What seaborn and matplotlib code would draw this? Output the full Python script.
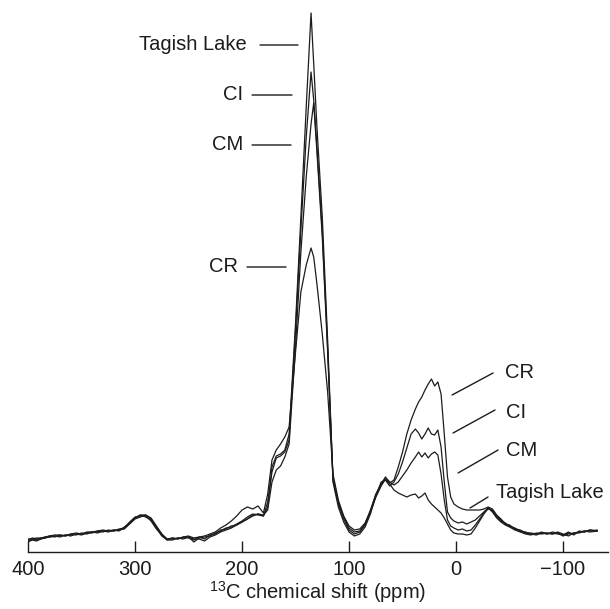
import matplotlib
matplotlib.use("Agg")
import matplotlib.pyplot as plt
import pandas as pd
import seaborn as sns

# 13C chemical shift (ppm), high field on the right
ppm = [400, 396, 392, 388, 384, 380, 375, 370, 365, 360, 355, 350, 345, 340, 335,
       330, 325, 320, 315, 310, 305, 300, 295, 290, 285, 280, 275, 270, 265, 260,
       255, 250, 245, 240, 235, 230, 225, 220, 215, 210, 205, 200, 195, 190, 185, 180,
       176, 172, 168, 164, 160, 156, 150, 145, 140, 135.5, 133, 130, 125, 120, 115,
       110, 105, 100, 95, 90, 85, 80, 75, 70, 66, 62,
       58, 54, 50, 46, 42, 38, 35, 32, 29, 26, 23, 20, 17, 14, 11, 8, 5, 2,
       -2, -6, -10, -14, -18, -22, -26, -30,
       -34, -38, -42, -46, -50, -55, -60, -65, -70, -75, -80, -85, -90, -95,
       -100, -105, -110, -115, -120, -125, -132]

# Signal intensity (arbitrary units) for each meteorite group
tagish_lake = [11, 13, 12, 14, 14, 16, 15, 17, 16, 18, 17, 19, 18, 20, 19,
               21, 20, 22, 21, 25, 29, 34, 37, 35, 32, 24, 16, 12, 14, 13,
               15, 14, 12, 15, 13, 17, 18, 22, 23, 26, 27, 30, 33, 36, 38, 36,
               45, 85, 96, 98, 102, 118, 228, 335, 445, 539, 488, 425, 335, 212, 72,
               48, 33, 22, 18, 20, 27, 40, 55, 67, 73, 68,
               62, 59, 57, 55, 57, 58, 54, 56, 59, 52, 48, 45, 42, 39, 34, 28, 22, 19,
               18, 18, 17, 18, 24, 31, 38, 44,
               41, 35, 31, 28, 26, 23, 21, 19, 18, 18, 19, 18, 19, 18,
               17, 19, 18, 20, 21, 21, 22]

ci = [12, 14, 13, 13, 15, 15, 16, 16, 17, 17, 18, 18, 19, 20, 20,
      21, 21, 21, 23, 24, 30, 35, 36, 36, 31, 23, 17, 13, 13, 14,
      14, 15, 10, 14, 15, 16, 19, 21, 24, 25, 28, 31, 35, 38, 37, 36,
      50, 80, 94, 96, 100, 112, 222, 322, 415, 480, 452, 405, 320, 205, 70,
      45, 30, 20, 16, 18, 25, 38, 56, 70, 72, 66,
      70, 78, 90, 104, 118, 123, 119, 113, 118, 124, 118, 117, 122, 105, 70, 40, 34, 31,
      29, 30, 28, 30, 32, 36, 40, 44,
      40, 34, 30, 27, 25, 22, 20, 18, 17, 19, 18, 19, 18, 19,
      16, 18, 19, 20, 20, 22, 21]

cm = [10, 12, 11, 13, 14, 15, 16, 15, 17, 16, 18, 17, 19, 19, 21,
      20, 22, 21, 22, 23, 28, 33, 35, 37, 33, 25, 18, 12, 12, 14,
      13, 15, 13, 13, 11, 15, 17, 20, 22, 24, 27, 30, 33, 37, 38, 37,
      42, 70, 82, 86, 95, 108, 205, 300, 375, 428, 449, 400, 315, 200, 75,
      50, 35, 24, 20, 21, 28, 42, 58, 68, 75, 70,
      67, 70, 76, 82, 89, 95, 100, 95, 99, 94, 98, 100, 97, 78, 52, 32, 26, 24,
      22, 23, 21, 22, 27, 33, 39, 43,
      42, 36, 32, 29, 26, 24, 21, 20, 18, 17, 19, 19, 18, 20,
      18, 16, 19, 19, 21, 20, 21]

cr = [13, 13, 14, 14, 15, 16, 17, 17, 16, 18, 19, 18, 20, 20, 21,
      22, 21, 22, 22, 24, 29, 34, 37, 37, 34, 26, 18, 13, 14, 13,
      15, 16, 14, 15, 16, 18, 20, 24, 27, 31, 36, 42, 45, 43, 46, 39,
      58, 92, 102, 108, 115, 125, 200, 260, 287, 304, 295, 268, 218, 160, 78,
      52, 36, 26, 22, 23, 29, 41, 55, 66, 73, 69,
      72, 85, 100, 118, 132, 143, 150, 155, 162, 168, 173, 166, 170, 158, 118, 75, 55, 48,
      45, 43, 42, 42, 42, 42, 43, 45,
      43, 37, 33, 28, 27, 23, 22, 19, 19, 18, 20, 18, 20, 19,
      17, 20, 17, 21, 20, 22, 21]

samples = ["Tagish Lake", "CI", "CM", "CR"]
tick_values = [400, 300, 200, 100, 0, -100]
tick_labels = ["400", "300", "200", "100", "0", "\u2212100"]

# Label placement: text anchor x, text y, leader line ends
left_text_x = [195.3, 199.1, 199.1, 203.7]
left_text_y = [507, 457, 407, 285]
left_lines = [(183.2, 147.7), (190.6, 153.3), (190.6, 154.2), (195.3, 158.9)]

right_names = ["CR", "CI", "CM", "Tagish Lake"]
right_text_x = [-45.8, -46.7, -46.7, -37.4]
right_text_y = [180, 140, 102, 60]
right_lines = [(3.7, 157, -34.6, 179), (2.8, 119, -36.4, 142),
               (-1.9, 79, -39.3, 102), (-13.1, 44, -29.9, 55)]

frames = [pd.DataFrame({"ppm": ppm, "intensity": vals, "sample": name})
          for name, vals in zip(samples, [tagish_lake, ci, cm, cr])]
df = pd.concat(frames, ignore_index=True)

sns.set_theme(style="white")
plt.rcParams["font.family"] = ["Liberation Sans", "DejaVu Sans"]
plt.rcParams["mathtext.default"] = "regular"

ink = "#1c1c1c"
fig = plt.figure(figsize=(6.10, 6.09), dpi=100)
ax = fig.add_axes([28 / 610, 57 / 609, 580 / 610, 552 / 609])

sns.lineplot(data=df, x="ppm", y="intensity", hue="sample", estimator=None,
             sort=False, palette=[ink] * 4, linewidth=0.9, legend=False, ax=ax)

ax.set_xlim(400, -142)
ax.set_ylim(0, 552)
for side in ["left", "top", "right"]:
    ax.spines[side].set_visible(False)
ax.spines["bottom"].set_color(ink)
ax.spines["bottom"].set_linewidth(1.0)

ax.set_xticks(tick_values)
ax.set_xticklabels(tick_labels)
ax.set_yticks([])
ax.tick_params(axis="x", direction="in", length=8, width=1, pad=5.5,
               labelsize=14.5, colors=ink, bottom=True)
ax.set_xlabel("$^{13}$C chemical shift (ppm)", fontsize=14.5, color=ink, labelpad=0)
ax.set_ylabel("")

for name, tx, ty, (x0, x1) in zip(samples, left_text_x, left_text_y, left_lines):
    ax.text(tx, ty, name, ha="right", va="center", fontsize=14.5, color=ink)
    ax.annotate("", xy=(x1, ty), xytext=(x0, ty),
                arrowprops=dict(arrowstyle="-", color=ink, lw=1.0,
                                shrinkA=0, shrinkB=0))

for name, tx, ty, (x0, y0, x1, y1) in zip(right_names, right_text_x, right_text_y, right_lines):
    ax.text(tx, ty, name, ha="left", va="center", fontsize=14.5, color=ink)
    ax.annotate("", xy=(x0, y0), xytext=(x1, y1),
                arrowprops=dict(arrowstyle="-", color=ink, lw=1.0,
                                shrinkA=0, shrinkB=0))

fig.savefig("out.png", dpi=100, facecolor="white")
